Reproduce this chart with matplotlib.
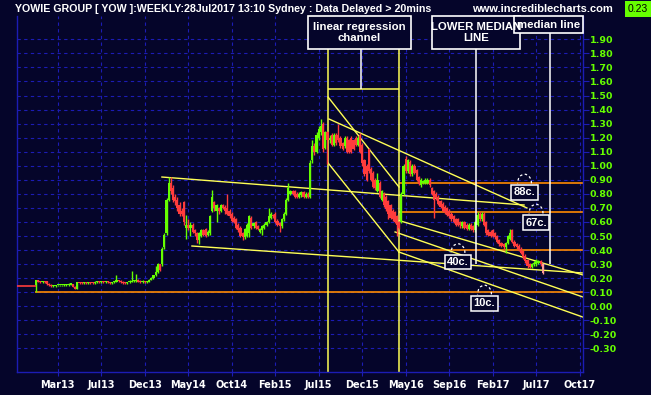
import matplotlib
matplotlib.use("Agg")
import matplotlib.pyplot as plt
from matplotlib.patches import Rectangle, Arc

# weekly candles, week 0 = first bar (early Jan 2013)
OPEN = [.15, .19, .175, .17, .175, .18, .16, .155, .145, .145,
        .15, .15, .15, .15, .15, .15, .155, .16, .14, .125,
        .17, .17, .165, .17, .165, .17, .17, .165, .17, .175,
        .17, .175, .17, .175, .17, .165, .17, .175, .19, .18,
        .175, .17, .165, .17, .175, .18, .18, .19, .18, .17,
        .175, .17, .175, .19, .20, .22, .245, .30, .30, .42,
        .52, .76, .88, .84, .78, .76, .72, .68, .74, .56,
        .58, .56, .58, .54, .52, .47, .50, .54, .55, .51,
        .52, .68, .74, .68, .70, .68, .72, .71, .70, .68,
        .66, .63, .62, .58, .56, .52, .49, .50, .52, .63,
        .57, .60, .57, .53, .54, .56, .58, .60, .63, .65,
        .66, .61, .59, .57, .62, .66, .76, .80, .82, .82,
        .80, .78, .79, .81, .78, .80, .78, 1.04, 1.14, 1.10,
        1.20, 1.24, 1.30, 1.13, 1.24, 1.18, 1.22, 1.15, 1.22, 1.22,
        1.20, 1.16, 1.14, 1.20, 1.18, 1.20, 1.18, 1.20, 1.15, 1.22,
        1.15, 1.04, 1.00, 1.12, .98, .95, .90, .82, .88, .76,
        .80, .78, .75, .72, .68, .67, .64, .60, .60, .80,
        1.05, .96, 1.03, .94, 1.00, .97, .92, .86, .88, .88,
        .88, .90, .84, .82, .80, .78, .75, .73, .71, .70,
        .68, .66, .64, .62, .62, .60, .57, .60, .58, .55,
        .58, .57, .54, .58, .66, .62, .66, .60, .54, .53,
        .54, .52, .50, .47, .45, .44, .42, .45, .48, .54,
        .46, .44, .43, .41, .39, .36, .33, .30, .28, .30,
        .30, .31, .32, .30]
HIGH = [.19, .19, .18, .18, .18, .18, .165, .16, .155, .155,
        .155, .155, .155, .16, .16, .165, .165, .16, .145, .175,
        .175, .175, .175, .175, .175, .175, .175, .18, .18, .18,
        .18, .18, .18, .18, .175, .175, .18, .22, .19, .185,
        .18, .175, .175, .185, .25, .185, .23, .195, .185, .19,
        .18, .18, .195, .205, .225, .29, .31, .30, .42, .52,
        .77, .92, .92, .86, .80, .78, .74, .70, .75, .65,
        .62, .60, .59, .55, .53, .53, .55, .55, .56, .54,
        .65, .83, .75, .73, .71, .73, .73, .72, .80, .69,
        .67, .64, .63, .59, .57, .53, .56, .59, .65, .64,
        .60, .61, .58, .56, .58, .59, .61, .70, .67, .66,
        .67, .62, .60, .63, .67, .77, .88, .83, .83, .83,
        .81, .81, .82, .82, .81, .81, 1.04, 1.18, 1.16, 1.24,
        1.28, 1.33, 1.31, 1.25, 1.25, 1.22, 1.23, 1.23, 1.23, 1.30,
        1.21, 1.17, 1.21, 1.21, 1.19, 1.21, 1.19, 1.21, 1.21, 1.23,
        1.16, 1.05, 1.01, 1.13, .99, .96, .91, .95, .89, .83,
        .81, .79, .76, .73, .69, .68, .65, .61, .81, 1.01,
        1.07, 1.05, 1.04, 1.01, 1.01, .98, .93, .91, .90, .91,
        .91, .91, .85, .83, .81, .79, .76, .74, .72, .71,
        .69, .67, .65, .63, .63, .61, .61, .61, .59, .59,
        .59, .58, .61, .67, .67, .67, .67, .61, .55, .54,
        .55, .53, .51, .48, .46, .45, .46, .51, .55, .55,
        .47, .45, .44, .42, .40, .37, .34, .31, .31, .32,
        .34, .33, .33, .31]
LOW = [.10, .17, .165, .165, .165, .155, .145, .14, .14, .14,
       .145, .145, .145, .145, .145, .145, .15, .135, .12, .12,
       .16, .16, .16, .16, .16, .16, .16, .16, .165, .165,
       .165, .165, .165, .165, .16, .16, .165, .17, .175, .165,
       .16, .16, .16, .165, .17, .175, .175, .17, .165, .165,
       .165, .165, .17, .185, .195, .215, .24, .25, .29, .41,
       .51, .75, .80, .74, .72, .68, .64, .64, .58, .48,
       .54, .50, .52, .50, .45, .44, .49, .50, .49, .50,
       .51, .67, .68, .60, .66, .67, .69, .66, .65, .63,
       .60, .59, .55, .53, .49, .47, .48, .49, .49, .55,
       .56, .55, .54, .52, .51, .55, .57, .59, .62, .63,
       .59, .57, .53, .56, .61, .65, .75, .79, .79, .77,
       .77, .77, .78, .77, .77, .77, .77, 1.02, 1.08, 1.09,
       1.18, 1.22, 1.10, 1.12, 1.01, 1.16, 1.14, 1.14, 1.15, 1.17,
       1.13, 1.11, 1.13, 1.09, 1.09, 1.09, 1.11, 1.14, 1.14, 1.09,
       1.00, .93, .89, .95, .89, .84, .83, .81, .77, .75,
       .71, .68, .62, .62, .61, .59, .50, .55, .59, .79,
       .95, .95, .93, .93, .94, .89, .86, .85, .87, .87,
       .87, .85, .79, .63, .76, .72, .70, .67, .66, .64,
       .63, .61, .59, .57, .57, .56, .56, .55, .54, .54,
       .54, .53, .53, .57, .61, .61, .57, .51, .50, .49,
       .49, .48, .45, .43, .42, .41, .38, .44, .47, .45,
       .42, .41, .39, .37, .34, .31, .27, .27, .27, .29,
       .29, .30, .29, .23]
CLOSE = [.19, .175, .17, .175, .17, .16, .15, .145, .15, .15,
         .15, .15, .15, .155, .155, .16, .16, .14, .125, .17,
         .165, .165, .17, .165, .17, .165, .165, .175, .175, .17,
         .175, .17, .175, .17, .165, .17, .175, .19, .18, .17,
         .165, .165, .17, .18, .18, .18, .185, .175, .17, .175,
         .17, .175, .19, .20, .22, .245, .30, .26, .41, .51,
         .76, .88, .82, .76, .75, .70, .66, .66, .60, .58,
         .56, .58, .53, .52, .47, .52, .54, .51, .50, .53,
         .64, .78, .70, .72, .68, .72, .70, .68, .66, .64,
         .61, .60, .56, .54, .50, .49, .55, .58, .64, .56,
         .59, .56, .55, .55, .57, .58, .60, .64, .66, .64,
         .60, .58, .57, .62, .66, .76, .84, .82, .80, .78,
         .78, .80, .81, .78, .80, .78, 1.02, 1.14, 1.10, 1.22,
         1.26, 1.28, 1.12, 1.24, 1.18, 1.20, 1.15, 1.22, 1.16, 1.18,
         1.14, 1.12, 1.20, 1.10, 1.10, 1.10, 1.12, 1.15, 1.20, 1.10,
         1.02, .94, .90, .96, .90, .85, .84, .90, .78, .82,
         .72, .69, .66, .63, .62, .60, .58, .56, .80, 1.00,
         .96, 1.04, .94, 1.00, .95, .90, .87, .90, .89, .90,
         .90, .86, .80, .76, .77, .73, .71, .68, .67, .65,
         .64, .62, .60, .58, .58, .58, .60, .56, .55, .58,
         .55, .54, .60, .65, .62, .66, .58, .52, .51, .50,
         .50, .49, .46, .44, .43, .42, .45, .50, .52, .46,
         .43, .42, .40, .38, .35, .32, .29, .28, .30, .31,
         .32, .32, .30, .235]

TICK_WEEKS = [10, 30, 50, 70, 90, 110, 130, 150, 170, 190, 210, 230, 250]
TICK_LABELS = ["Mar13", "Jul13", "Dec13", "May14", "Oct14", "Feb15", "Jul15",
               "Dec15", "May16", "Sep16", "Feb17", "Jul17", "Oct17"]
Y_TICKS = [-0.3, -0.2, -0.1, 0.0, 0.1, 0.2, 0.3, 0.4, 0.5, 0.6, 0.7, 0.8,
           0.9, 1.0, 1.1, 1.2, 1.3, 1.4, 1.5, 1.6, 1.7, 1.8, 1.9]

# drawn tools: trend lines as (week, price) pairs
TREND_LINES = [
    ((57.9, 0.920), (224.4, 0.721)),    # upper flat channel
    ((71.7, 0.429), (251.5, 0.237)),    # lower flat channel
    ((134.3, 1.489), (166.9, 0.849)),   # regression channel top
    ((134.3, 1.020), (166.9, 0.386)),   # regression channel bottom
    ((134.7, 1.333), (225.7, 0.700)),   # pitchfork upper
    ((167.0, 0.610), (251.5, 0.223)),   # median line
    ((165.1, 0.529), (251.5, 0.066)),   # lower median line
    ((166.9, 0.386), (251.5, -0.077)),  # lower line
]
CHANNEL_WEEKS = [134.3, 166.9]
LEVELS = [0.88, 0.67, 0.40]
SUPPORT = 0.10
LEVEL_TAGS = [("88c.", 224.6, 0.81), ("67c.", 229.9, 0.596),
              ("40c.", 194.0, 0.315), ("10c.", 206.2, 0.02)]

BG = "#05052a"
GRID = "#1c1cb4"
GREEN = "#66ff00"
RED = "#ff3c3c"
YELLOW = "#ffff55"
ORANGE = "#ff8a00"

fig = plt.figure(figsize=(6.51, 3.95), dpi=100)
fig.patch.set_facecolor(BG)
ax = fig.add_axes([17 / 651, 1 - 372 / 395, 566 / 651, 356 / 395])
ax.set_facecolor(BG)
ax.set_xlim(-8.74, 251.5)
ax.set_ylim(-0.4676, 2.066)

ax.set_xticks(TICK_WEEKS)
ax.set_xticklabels(TICK_LABELS)
ax.set_yticks(Y_TICKS)
ax.set_yticklabels([f"{v:.2f}" for v in Y_TICKS])
ax.yaxis.tick_right()
ax.tick_params(axis="x", colors=GRID, labelcolor="white", length=3, pad=3)
ax.tick_params(axis="y", colors=GRID, labelcolor=GREEN, length=4, pad=1)
for lab in ax.get_xticklabels():
    lab.set_fontfamily("DejaVu Sans")
    lab.set_fontweight("bold")
    lab.set_fontsize(7.0)
for lab in ax.get_yticklabels():
    lab.set_fontfamily("DejaVu Sans")
    lab.set_fontweight("bold")
    lab.set_fontsize(6.8)
ax.grid(True, color=GRID, linestyle=(0, (3, 3)), linewidth=0.8)
ax.set_axisbelow(True)
for side in ("left", "right", "bottom"):
    ax.spines[side].set_color(GRID)
    ax.spines[side].set_linewidth(1)
ax.spines["top"].set_visible(False)

# candles
weeks = list(range(len(CLOSE)))
for w, o, h, l, c in zip(weeks, OPEN, HIGH, LOW, CLOSE):
    col = GREEN if c >= o else RED
    if w == weeks[-1]:
        col = "#ff9a9a"
    ax.vlines(w, l, h, color=col, lw=1.0, zorder=3)
    ax.bar(w, max(abs(c - o), 0.008), bottom=min(o, c), width=1.0,
           color=col, lw=0, zorder=3)
ax.hlines(OPEN[0] - 0.005, -8.74, 0, color=RED, lw=1.2, zorder=3)

# levels
ax.hlines(SUPPORT, -0.5, 251.5, color=ORANGE, lw=1.2, zorder=2)
for lv in LEVELS:
    ax.hlines(lv, CHANNEL_WEEKS[1], 251.5, color=ORANGE, lw=1.2, zorder=2)

for (x0, y0), (x1, y1) in TREND_LINES:
    ax.plot([x0, x1], [y0, y1], color=YELLOW, lw=1.0, zorder=2)
for cw in CHANNEL_WEEKS:
    ax.axvline(cw, color=YELLOW, lw=1.1, zorder=2)
ax.hlines(1.547, CHANNEL_WEEKS[0], CHANNEL_WEEKS[1], color=YELLOW, lw=1.1, zorder=2)

# callout boxes
boxes = [("linear regression\nchannel", 125.1, 172.4, 1.831),
         ("LOWER MEDIAN\nLINE", 182.1, 222.5, 1.831),
         ("median line", 219.8, 251.5, 1.945)]
for txt, x0, x1, y0 in boxes:
    ax.add_patch(Rectangle((x0, y0), x1 - x0, 2.066 - y0, facecolor=BG,
                           edgecolor="white", lw=1.2, zorder=4, clip_on=False))
    ax.text((x0 + x1) / 2, (y0 + 2.066) / 2, txt, color="white", ha="center",
            va="center", fontsize=8.2, fontweight="bold",
            family="Liberation Sans", linespacing=1.2, zorder=5)
ax.vlines(149.4, 1.547, 1.831, color="white", lw=1.1, zorder=4)
ax.vlines(202.3, 0.30, 1.831, color="white", lw=1.1, zorder=4)
ax.vlines(236.3, 0.30, 1.945, color="white", lw=1.1, zorder=4)

for txt, xc, yc in LEVEL_TAGS:
    ax.add_patch(Arc((xc, yc + 0.065), 6.4, 0.13, theta1=0, theta2=180,
                     color="white", lw=0.9, ls=(0, (2, 2)), zorder=5))
    ax.text(xc, yc, txt, color="white", ha="center", va="center", fontsize=8,
            fontweight="bold", family="Liberation Sans", zorder=6,
            bbox=dict(boxstyle="square,pad=0.22", fc=BG, ec="white", lw=1.1))

fig.text(15 / 651, 1 - 9 / 395,
         "YOWIE GROUP [ YOW ]:WEEKLY:28Jul2017 13:10 Sydney : Data Delayed > 20mins",
         color="white", fontsize=7.7, fontweight="bold", family="Liberation Sans",
         va="center", ha="left")
fig.text(613 / 651, 1 - 9 / 395, "www.incrediblecharts.com", color="white",
         fontsize=8, fontweight="bold", family="Liberation Sans",
         va="center", ha="right")
fig.text(638 / 651, 1 - 9 / 395, f"{CLOSE[-1]:.2f}"[:4], color="black",
         fontsize=7.5, family="Liberation Sans", va="center", ha="center",
         bbox=dict(boxstyle="square,pad=0.25", fc=GREEN, ec="none"))

fig.savefig("out.png", dpi=100, facecolor=BG)
